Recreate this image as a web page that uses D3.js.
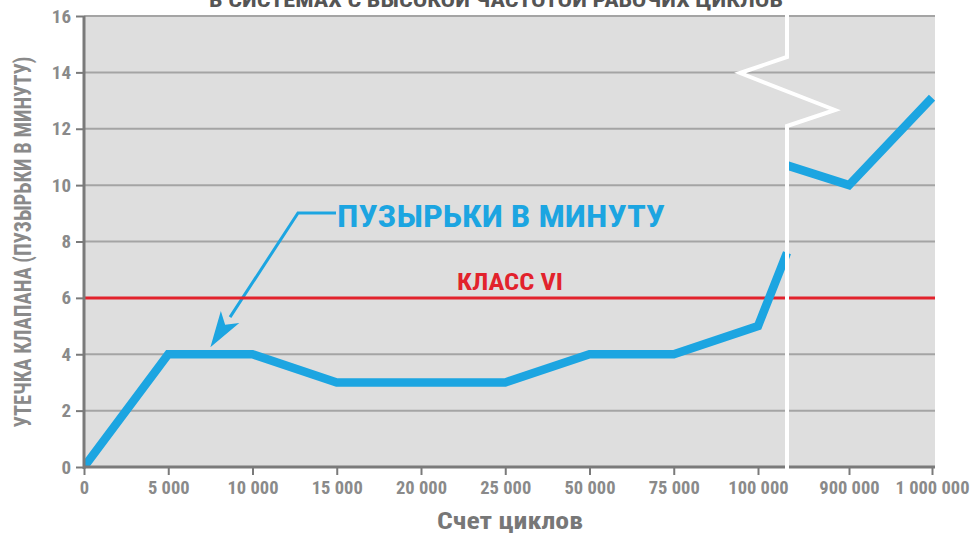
<!DOCTYPE html>
<html lang="ru">
<head>
    <meta charset="UTF-8">
    <title>Утечка клапана</title>
    <script src="https://d3js.org/d3.v7.min.js"></script>
    <style>
        body { margin: 0; background: #fff; }
        svg { display: block; }
        text {
            font-family: "Liberation Sans Narrow", "Roboto Condensed", Roboto, "Open Sans", sans-serif;
            font-weight: bold;
        }
        .tick text { fill: #8a8a8a; }
    </style>
</head>
<body>
    <div id="chart"></div>
    <script>
        // categories on the x axis (left part before the break, right part after)
        const cyclesLeft = ["0", "5 000", "10 000", "15 000", "20 000", "25 000", "50 000", "75 000", "100 000"];
        const cyclesRight = ["900 000", "1 000 000"];
        // leakage, bubbles per minute
        const leakLeft = [0, 4, 4, 3, 3, 3, 4, 4, 5];
        const leakRight = [10, 13.1];
        // where the line meets the break, from each side
        const leakBreakLeft = 7.6;
        const leakBreakRight = 10.7;
        const yTicks = [0, 2, 4, 6, 8, 10, 12, 14, 16];
        const classVI = 6;

        const width = 972, height = 537;
        const plotLeft = 84, plotRight = 935, plotTop = 16, plotBottom = 467;
        const breakX = 787;
        const blue = "#1ca5e1", red = "#e2222c", axisColor = "#7a7a7a";

        const svg = d3.select("#chart").append("svg")
            .attr("width", width)
            .attr("height", height);

        const y = d3.scaleLinear().domain([0, 16]).range([plotBottom, plotTop]);
        const xLeft = d3.scalePoint().domain(cyclesLeft).range([plotLeft, 758]);
        const xRight = d3.scalePoint().domain(cyclesRight).range([849, 932]);

        svg.append("defs").append("clipPath").attr("id", "plot")
            .append("rect")
            .attr("x", plotLeft).attr("y", plotTop)
            .attr("width", plotRight - plotLeft).attr("height", plotBottom - plotTop);

        // background and grid
        svg.append("rect")
            .attr("x", plotLeft).attr("y", plotTop)
            .attr("width", plotRight - plotLeft).attr("height", plotBottom - plotTop)
            .attr("fill", "#dedede");

        svg.append("g").selectAll("line")
            .data(yTicks.filter(d => d > 0))
            .join("line")
            .attr("x1", plotLeft).attr("x2", plotRight)
            .attr("y1", d => y(d)).attr("y2", d => y(d))
            .attr("stroke", "#a4a4a4")
            .attr("stroke-width", 2);

        // annotation leader with arrow
        const tip = [(xLeft("5 000") + xLeft("10 000")) / 2, y(4) - 7];
        const bend = [298, 213];
        const dx = tip[0] - bend[0], dy = tip[1] - bend[1];
        const len = Math.hypot(dx, dy);
        const ux = dx / len, uy = dy / len;
        const headLen = 36, headHalf = 11;
        const base = [tip[0] - ux * headLen, tip[1] - uy * headLen];

        svg.append("path")
            .attr("d", d3.line()([[336, bend[1]], bend, base]))
            .attr("fill", "none")
            .attr("stroke", blue)
            .attr("stroke-width", 3);
        svg.append("path")
            .attr("d", d3.line()([
                tip,
                [base[0] + uy * headHalf, base[1] - ux * headHalf],
                [tip[0] - ux * (headLen - 9), tip[1] - uy * (headLen - 9)],
                [base[0] - uy * headHalf, base[1] + ux * headHalf]
            ]) + "Z")
            .attr("fill", blue);

        svg.append("text")
            .attr("x", 337).attr("y", 227)
            .attr("font-size", 31)
            .attr("textLength", 328)
            .attr("lengthAdjust", "spacingAndGlyphs")
            .attr("fill", blue)
            .text("ПУЗЫРЬКИ В МИНУТУ");

        // class VI limit
        svg.append("line")
            .attr("x1", plotLeft).attr("x2", plotRight)
            .attr("y1", y(classVI)).attr("y2", y(classVI))
            .attr("stroke", red)
            .attr("stroke-width", 3);
        svg.append("text")
            .attr("x", 510).attr("y", 290)
            .attr("text-anchor", "middle")
            .attr("font-size", 24)
            .attr("textLength", 106)
            .attr("lengthAdjust", "spacingAndGlyphs")
            .attr("fill", red)
            .text("КЛАСС VI");

        // leakage line
        const line = d3.line().curve(d3.curveLinear);
        const ptsLeft = cyclesLeft.map((c, i) => [xLeft(c), y(leakLeft[i])]);
        ptsLeft.push([breakX, y(leakBreakLeft)]);
        const ptsRight = [[breakX, y(leakBreakRight)]]
            .concat(cyclesRight.map((c, i) => [xRight(c), y(leakRight[i])]));

        const lines = svg.append("g").attr("clip-path", "url(#plot)");
        [ptsLeft, ptsRight].forEach(pts => {
            lines.append("path")
                .attr("d", line(pts))
                .attr("fill", "none")
                .attr("stroke", blue)
                .attr("stroke-width", 8.5)
                .attr("stroke-linejoin", "miter");
        });

        // axes
        const yAxis = svg.append("g")
            .attr("transform", `translate(${plotLeft},0)`)
            .call(d3.axisLeft(y).tickValues(yTicks).tickSize(8).tickPadding(5));
        yAxis.select(".domain").remove();
        yAxis.selectAll(".tick line").attr("stroke", axisColor).attr("stroke-width", 2);
        yAxis.selectAll(".tick text").attr("font-size", 19);

        [xLeft, xRight].forEach(sc => {
            const g = svg.append("g")
                .attr("transform", `translate(0,${plotBottom})`)
                .call(d3.axisBottom(sc).tickSize(8).tickPadding(6));
            g.select(".domain").remove();
            g.selectAll(".tick line").attr("stroke", axisColor).attr("stroke-width", 2);
            g.selectAll(".tick text").attr("font-size", 18.5);
        });

        svg.append("line")
            .attr("x1", plotLeft).attr("x2", plotLeft)
            .attr("y1", plotTop).attr("y2", plotBottom + 2)
            .attr("stroke", axisColor).attr("stroke-width", 3);
        svg.append("line")
            .attr("x1", plotLeft - 1).attr("x2", plotRight)
            .attr("y1", plotBottom).attr("y2", plotBottom)
            .attr("stroke", axisColor).attr("stroke-width", 3);

        // axis break
        svg.append("path")
            .attr("d", d3.line()([[breakX, 12], [breakX, 57], [740, 73], [835, 110], [breakX, 126], [breakX, 474]]))
            .attr("fill", "none")
            .attr("stroke", "#fff")
            .attr("stroke-width", 4);

        // titles
        svg.append("text")
            .attr("x", 496).attr("y", 7)
            .attr("text-anchor", "middle")
            .attr("font-size", 21)
            .attr("textLength", 574)
            .attr("lengthAdjust", "spacingAndGlyphs")
            .attr("fill", "#555")
            .text("В СИСТЕМАХ С ВЫСОКОЙ ЧАСТОТОЙ РАБОЧИХ ЦИКЛОВ");

        svg.append("text")
            .attr("transform", "translate(31,242) rotate(-90)")
            .attr("text-anchor", "middle")
            .attr("font-size", 23)
            .attr("textLength", 371)
            .attr("lengthAdjust", "spacingAndGlyphs")
            .attr("fill", "#8a8a8a")
            .text("УТЕЧКА КЛАПАНА (ПУЗЫРЬКИ В МИНУТУ)");

        svg.append("text")
            .attr("x", 510).attr("y", 529)
            .attr("text-anchor", "middle")
            .attr("font-size", 23)
            .attr("textLength", 146)
            .attr("lengthAdjust", "spacingAndGlyphs")
            .attr("fill", "#777")
            .text("Счет циклов");
    </script>
</body>
</html>
